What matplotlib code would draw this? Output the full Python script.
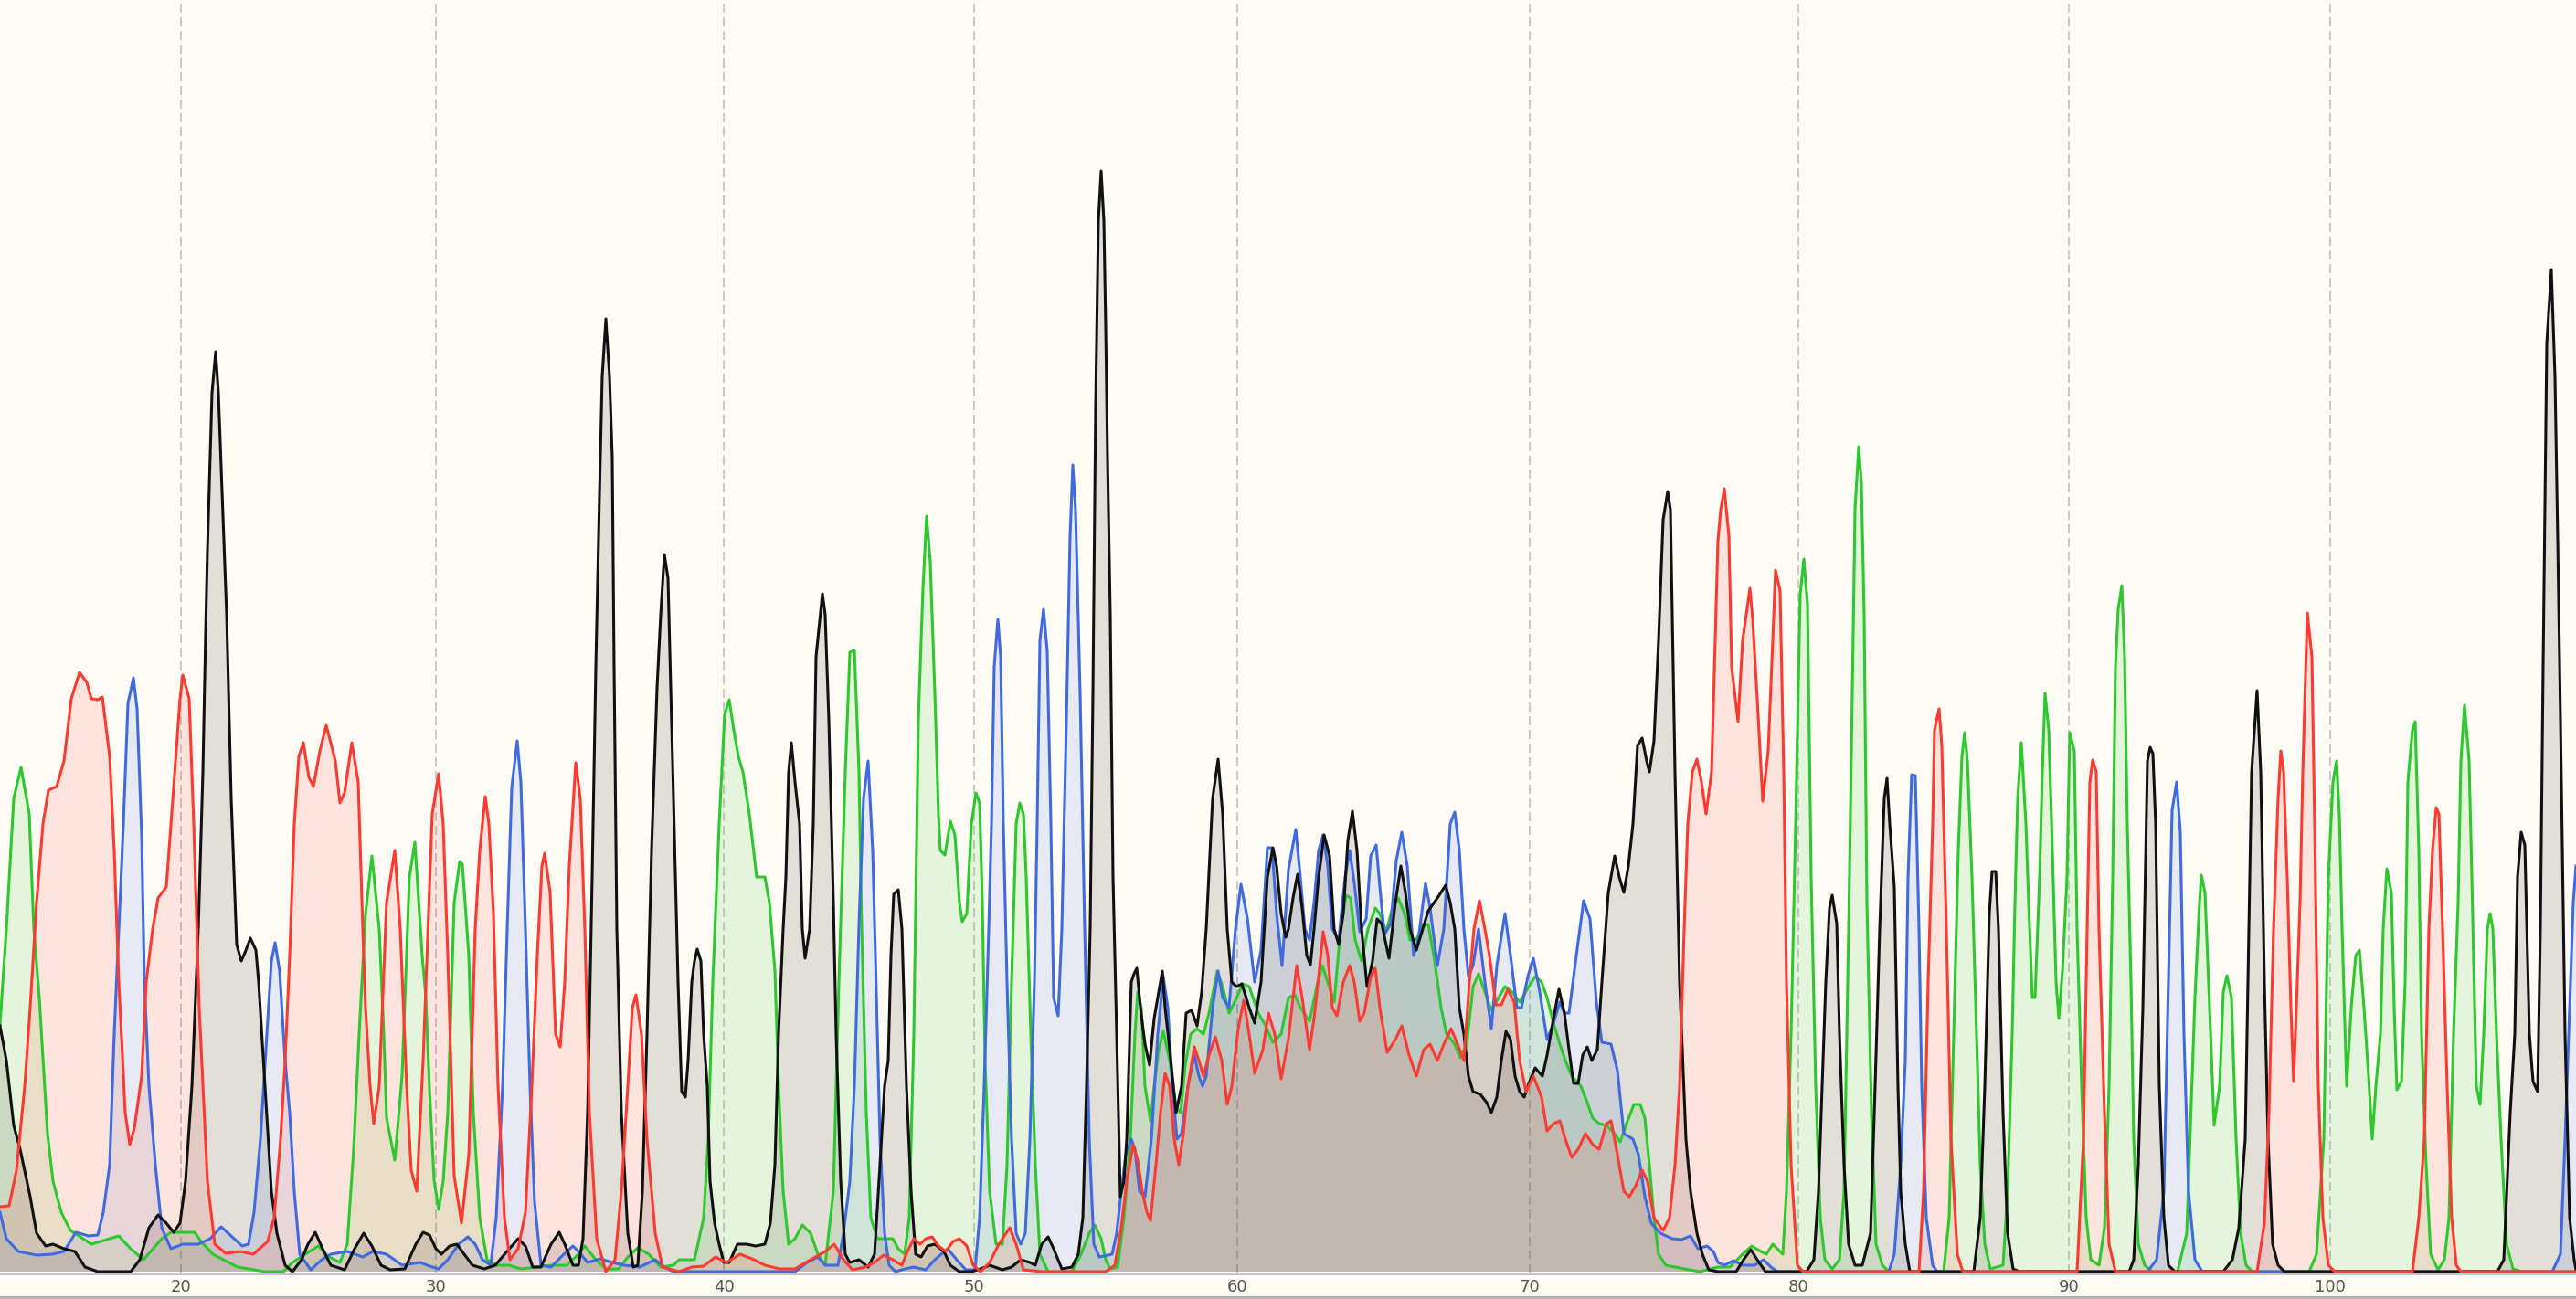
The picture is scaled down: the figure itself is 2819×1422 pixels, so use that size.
import matplotlib
matplotlib.use("Agg")
import matplotlib.pyplot as plt
from matplotlib.lines import Line2D

# ---------------- data (scan position, signal height) ----------------
green_x = [0, 7, 15, 23, 32, 37, 43, 52, 58, 67, 77, 100, 130, 143, 157, 177, 187, 213, 220, 233, 260, 290, 310, 320, 348, 360, 372, 380, 387, 393, 400, 407, 415, 420, 423, 432, 440, 448, 454, 462, 466, 470, 475, 480,
           485, 490, 497, 503, 506, 513, 518, 525, 533, 543, 557, 570, 587, 603, 620, 630, 640, 652, 663, 677, 687, 698, 710, 723, 737, 743, 760, 770, 775, 780, 787, 793, 798, 803, 808, 813, 820, 828, 837, 842, 848, 852, 857, 863, 870, 878, 887, 895, 903, 912, 918, 925, 930, 935, 940, 943, 948, 953, 960, 977, 983, 990, 995,
           1000, 1005, 1010, 1014, 1018, 1023, 1027, 1029, 1034, 1040, 1045, 1050, 1053, 1058, 1063, 1068, 1072, 1075, 1078, 1083, 1090, 1097, 1102, 1107, 1112, 1116, 1120, 1123, 1128, 1133, 1138, 1147, 1173, 1183, 1192, 1198, 1205, 1210, 1215, 1223, 1230, 1237, 1242, 1245, 1249, 1253, 1259, 1263, 1268, 1273, 1280, 1287, 1292, 1297,
           1303, 1310, 1317, 1323, 1332, 1338, 1345, 1352, 1360, 1367, 1377, 1385, 1393, 1402, 1410, 1417, 1423, 1433, 1442, 1447, 1453, 1460, 1467, 1473, 1478, 1483, 1490, 1497, 1505, 1510, 1517, 1523, 1530, 1537, 1543, 1550, 1557, 1563, 1570, 1577, 1583, 1592, 1598, 1605, 1612, 1618, 1625, 1632, 1640, 1647, 1655, 1663, 1673, 1680,
           1687, 1693, 1700, 1707, 1713, 1720, 1730, 1737, 1743, 1750, 1758, 1767, 1773, 1780, 1788, 1795, 1800, 1805, 1810, 1815, 1823, 1843, 1860, 1880, 1893, 1907, 1917, 1927, 1933, 1940, 1945, 1951, 1955, 1960, 1965, 1970, 1974, 1978, 1982, 1987, 1992, 1997, 2005, 2013, 2018, 2023, 2027, 2030, 2034, 2037, 2040, 2043, 2048,
           2053, 2060, 2067, 2127, 2133, 2138, 2143, 2147, 2150, 2153, 2158, 2163, 2167, 2172, 2178, 2192, 2197, 2202, 2205, 2208, 2212, 2217, 2220, 2224, 2227, 2232, 2235, 2238, 2242, 2246, 2250, 2253, 2257, 2262, 2265, 2270, 2273, 2278, 2283, 2288, 2297, 2303, 2308, 2312, 2315, 2318, 2322, 2325, 2328, 2332, 2335, 2340,
           2347, 2355, 2383, 2393, 2402, 2407, 2409, 2413, 2418, 2423, 2429, 2433, 2437, 2442, 2447, 2452, 2458, 2465, 2527, 2535, 2543, 2548, 2553, 2557, 2560, 2563, 2568, 2573, 2578, 2582, 2587, 2592, 2596, 2600, 2605, 2608, 2612, 2617, 2620, 2623, 2628, 2632, 2635, 2640, 2643, 2647, 2650, 2655, 2660, 2668, 2675, 2680,
           2685, 2690, 2693, 2697, 2702, 2705, 2710, 2714, 2718, 2722, 2725, 2728, 2732, 2737, 2743, 2750, 2760, 2819]
green_y = [271, 375, 518, 552, 501, 375, 300, 151, 99, 65, 45, 30, 39, 25, 13, 36, 43, 43, 33, 19, 5, 0, 0, 10, 28, 16, 10, 30, 134, 260, 392, 455, 375, 260, 168, 122, 214, 432, 470, 346, 300, 200, 100, 68,
           99, 174, 404, 449, 446, 346, 174, 59, 13, 7, 7, 3, 5, 7, 7, 16, 28, 13, 3, 3, 16, 26, 19, 5, 7, 13, 13, 59, 145, 317, 490, 610, 626, 593, 564, 547, 501, 432, 432, 404, 329, 203, 88, 30, 36, 51, 42, 19, 7, 88, 317, 547, 678, 680, 547, 375, 174, 59, 36, 36, 25, 19, 59,
           260, 604, 748, 827, 777, 633, 501, 461, 456, 493, 478, 404, 383, 392, 490, 524, 513, 404, 231, 88, 30, 30, 117, 317, 490, 513, 501, 432, 260, 117, 19, 0, 0, 19, 42, 51, 36, 13, 3, 5, 59, 145, 260, 306, 289, 203, 165, 203, 243, 263, 231, 180, 174, 226,
           260, 266, 260, 283, 329, 312, 283, 297, 315, 312, 283, 269, 251, 260, 300, 303, 289, 274, 317, 335, 317, 295, 375, 412, 409, 363, 340, 375, 398, 392, 372, 395, 409, 392, 363, 363, 380, 380, 340, 289, 260, 249, 234, 249, 312, 326, 306, 286, 300, 312, 306, 295, 312, 323,
           317, 300, 272, 249, 231, 214, 203, 185, 168, 162, 160, 151, 142, 162, 183, 183, 168, 117, 59, 19, 7, 3, 0, 5, 5, 19, 28, 22, 19, 30, 25, 19, 88, 260, 490, 742, 780, 731, 432, 203, 59, 13, 3, 13, 88, 375, 633, 834, 903, 863, 719, 404, 174,
           30, 7, 0, 0, 59, 260, 461, 564, 590, 559, 432, 260, 117, 30, 3, 7, 88, 260, 404, 518, 579, 490, 404, 300, 300, 432, 547, 633, 593, 461, 317, 277, 329, 432, 590, 570, 375, 203, 59, 13, 7, 48, 203, 432, 662, 725, 751, 673, 490, 317, 145, 30,
           7, 0, 0, 42, 300, 404, 434, 415, 289, 160, 203, 306, 324, 300, 145, 42, 7, 0, 0, 19, 145, 432, 536, 559, 501, 375, 203, 289, 346, 352, 289, 214, 145, 203, 260, 375, 441, 415, 289, 199, 208, 317, 536, 593, 602, 461, 260, 117, 19, 2, 13, 59,
           260, 404, 559, 620, 559, 432, 203, 183, 260, 375, 392, 375, 260, 145, 30, 3, 0, 0]

red_x = [0, 10, 18, 27, 33, 40, 47, 53, 62, 70, 78, 87, 95, 100, 107, 112, 120, 125, 130, 137, 142, 147, 155, 160, 167, 173, 182, 190, 197, 200, 207, 212, 218, 227, 235, 247, 263, 277, 293, 300, 307, 312, 317, 322, 327, 332, 338, 343, 350, 357, 367, 372, 377, 385, 392, 397, 400, 405, 409, 415, 423, 432, 438, 445, 450, 456, 463,
         470, 473, 480, 485, 490, 497, 505, 513, 520, 525, 531, 535, 540, 545, 552, 558, 567, 575, 582, 588, 593, 596, 602, 608, 613, 618, 623, 630, 635, 640, 645, 653, 663, 673, 680, 687, 692, 696, 702, 708, 717, 725, 743, 757, 770, 783, 795, 810, 823, 837, 853, 870, 887, 903, 913, 923, 933,
         947, 957, 967, 977, 987, 993, 1000, 1007, 1013, 1020, 1027, 1035, 1043, 1050, 1058, 1065, 1073, 1083, 1093, 1105, 1112, 1120, 1140, 1210, 1220, 1227, 1233, 1240, 1245, 1250, 1255, 1259, 1265, 1270, 1275, 1280, 1285, 1290, 1295, 1300, 1307, 1312, 1317, 1323, 1330, 1337, 1343, 1348, 1355, 1361, 1367, 1373, 1382, 1388, 1395, 1402,
         1410, 1415, 1419, 1425, 1433, 1438, 1443, 1448, 1453, 1458, 1463, 1470, 1477, 1482, 1488, 1493, 1500, 1505, 1510, 1518, 1527, 1534, 1542, 1550, 1558, 1565, 1573, 1580, 1588, 1595, 1602, 1608, 1613, 1619, 1625, 1630, 1637, 1643, 1650, 1657, 1663, 1670, 1678, 1687, 1693, 1700, 1707, 1713, 1720, 1727, 1735, 1743,
         1750, 1758, 1763, 1770, 1777, 1783, 1790, 1797, 1803, 1810, 1820, 1827, 1833, 1838, 1843, 1847, 1852, 1857, 1862, 1867, 1873, 1877, 1880, 1883, 1887, 1892, 1895, 1902, 1907, 1915, 1918, 1923, 1929, 1935, 1940, 1943, 1948, 1952, 1955, 1960, 1967, 1973, 2100, 2105, 2110, 2115, 2117, 2122, 2125, 2130, 2135, 2142,
         2148, 2273, 2280, 2284, 2287, 2290, 2294, 2297, 2303, 2308, 2315, 2470, 2478, 2483, 2488, 2493, 2496, 2499, 2503, 2507, 2510, 2513, 2517, 2520, 2525, 2530, 2533, 2537, 2542, 2548, 2555, 2640, 2647, 2653, 2658, 2662, 2666, 2669, 2673, 2678, 2683, 2688, 2693, 2819]
red_y = [71, 72, 111, 203, 289, 404, 490, 527, 531, 559, 627, 656, 645, 627, 626, 629, 564, 461, 317, 174, 139, 157, 214, 317, 375, 409, 421, 530, 627, 653, 627, 490, 289, 99, 30, 20, 22, 19, 33, 59, 145, 231, 346, 490, 564, 579, 541, 531, 570, 598, 559, 513, 524, 579, 536, 375, 289, 203, 162, 203, 404, 461, 375, 203, 111, 88, 231,
         421, 501, 545, 490, 346, 105, 53, 128, 375, 461, 520, 490, 392, 203, 59, 13, 25, 65, 203, 346, 444, 458, 415, 260, 246, 317, 444, 557, 518, 375, 174, 36, 0, 13, 88, 203, 289, 303, 260, 145, 42, 5, 0, 5, 6, 16, 10, 19, 14, 7, 3, 3, 13, 22, 30, 13, 2,
         5, 10, 18, 13, 7, 22, 36, 30, 36, 38, 28, 22, 33, 36, 28, 7, 0, 10, 30, 48, 30, 2, 0, 0, 7, 48, 99, 139, 122, 88, 65, 56, 117, 174, 217, 203, 145, 117, 151, 203, 246, 231, 214, 237, 257, 231, 183, 203, 266, 297, 260, 217, 243, 283, 260, 211,
         255, 300, 335, 300, 243, 277, 323, 372, 346, 289, 280, 317, 335, 317, 274, 283, 323, 332, 289, 240, 254, 269, 237, 214, 243, 249, 231, 249, 266, 249, 231, 317, 375, 406, 375, 346, 292, 292, 309, 295, 231, 197, 214, 191, 154, 162, 165, 145, 125, 134, 151, 139,
         134, 162, 165, 128, 88, 82, 94, 111, 99, 59, 45, 59, 117, 203, 375, 490, 547, 561, 536, 501, 547, 691, 800, 834, 857, 805, 662, 602, 691, 748, 714, 627, 515, 570, 691, 768, 745, 547, 317, 117, 7, 0, 0, 88, 317, 490, 593, 616, 576, 375, 145, 19,
         0, 0, 145, 375, 536, 560, 547, 375, 174, 30, 0, 0, 53, 174, 375, 518, 570, 547, 432, 289, 208, 289, 404, 547, 721, 673, 490, 203, 59, 7, 0, 0, 59, 145, 375, 461, 508, 501, 375, 203, 59, 7, 0, 0]

blue_x = [0, 7, 20, 40, 57, 70, 83, 97, 107, 113, 120, 125, 130, 135, 140, 146, 150, 155, 158, 163, 170, 177, 187, 200, 217, 230, 242, 253, 265, 272, 278, 285, 292, 297, 301, 306, 312, 317, 322, 328, 340, 352, 362, 380, 397, 408, 423, 440, 460, 470, 480, 490, 502, 512, 520, 528, 537, 543, 550, 555, 560, 566, 570, 575, 580, 585,
          592, 603, 617, 627, 633, 643, 657, 670, 683, 700, 717, 727, 737, 870, 883, 895, 903, 917, 923, 930, 935, 940, 945, 950, 955, 958, 963, 968, 973, 980, 990, 1000, 1013, 1023, 1037, 1047, 1057, 1067, 1072, 1077, 1082, 1085, 1088, 1092, 1095, 1098, 1102, 1107, 1112, 1117, 1122, 1127, 1132, 1135, 1138, 1142, 1146,
          1150, 1153, 1158, 1162, 1167, 1171, 1174, 1177, 1182, 1187, 1192, 1197, 1203, 1217, 1222, 1227, 1232, 1238, 1242, 1247, 1253, 1260, 1267, 1273, 1278, 1283, 1288, 1293, 1300, 1307, 1312, 1316, 1320, 1327, 1333, 1338, 1345, 1352, 1358, 1365, 1373, 1380, 1387, 1392, 1397, 1403,
          1410, 1418, 1423, 1428, 1433, 1438, 1443, 1448, 1453, 1458, 1465, 1472, 1477, 1482, 1488, 1495, 1500, 1506, 1510, 1515, 1522, 1528, 1534, 1540, 1547, 1552, 1560, 1565, 1573, 1580, 1587, 1592, 1597, 1602, 1607, 1612, 1618, 1625, 1632, 1638, 1647, 1653, 1660, 1665, 1672, 1678, 1685, 1693, 1700, 1707, 1712, 1717,
          1725, 1733, 1740, 1747, 1753, 1763, 1770, 1777, 1787, 1793, 1800, 1807, 1817, 1830, 1840, 1850, 1858, 1868, 1875, 1880, 1887, 1897, 1907, 1920, 1930, 1938, 1945, 2067, 2073, 2080, 2085, 2088, 2092, 2096, 2100, 2103, 2108, 2115, 2120, 2350, 2360, 2368, 2373, 2377, 2382, 2386, 2390, 2395, 2402, 2410,
          2793, 2802, 2807, 2812, 2816, 2819]
blue_y = [65, 36, 22, 18, 19, 22, 43, 39, 40, 65, 117, 260, 375, 490, 622, 650, 616, 478, 317, 203, 117, 48, 25, 30, 30, 36, 49, 39, 28, 30, 65, 145, 260, 340, 360, 329, 231, 174, 88, 19, 2, 13, 19, 22, 16, 22, 19, 7, 10, 6, 3, 13, 30, 38, 30, 13, 7, 59, 203, 375, 530, 581, 536, 375, 203, 76,
          7, 5, 19, 28, 22, 10, 14, 10, 7, 5, 13, 5, 0, 0, 10, 16, 7, 7, 42, 99, 203, 380, 518, 559, 461, 346, 145, 42, 7, 0, 3, 5, 2, 13, 25, 13, 2, 2, 59, 203, 375, 490, 662, 714, 673, 490, 317, 145, 42, 30, 42, 145, 317, 490, 691, 725, 679,
          490, 300, 280, 375, 604, 805, 883, 834, 633, 375, 145, 30, 16, 19, 42, 88, 128, 145, 134, 88, 82, 145, 260, 323, 289, 203, 145, 151, 203, 237, 214, 203, 214, 289, 329, 300, 289, 375, 424, 387, 317, 352, 464, 464, 392, 335,
          440, 484, 432, 375, 363, 404, 461, 478, 444, 375, 363, 432, 461, 426, 372, 386, 455, 467, 421, 369, 381, 450, 481, 444, 346, 363, 425, 398, 335, 375, 490, 503, 461, 375, 323, 335, 375, 317, 266, 335, 392, 346, 289, 289, 323, 343, 306, 254, 272, 295, 283, 283,
          346, 406, 386, 295, 251, 249, 220, 151, 145, 128, 82, 53, 42, 36, 35, 39, 25, 28, 22, 10, 7, 12, 7, 7, 13, 5, 0, 0, 19, 117, 231, 432, 544, 543, 375, 203, 59, 7, 0, 0, 13, 88, 317, 505, 536, 481, 260, 88, 13, 0,
          0, 19, 145, 289, 404, 444]

black_x = [0, 7, 15, 22, 33, 40, 50, 58, 70, 82, 93, 107, 143, 153, 163, 173, 182, 190, 197, 203, 210, 217, 222, 225, 227, 232, 236, 239, 248, 253, 259, 264, 268, 274, 280, 283, 290, 297, 303, 312, 320, 330, 337, 345, 353, 362, 377, 388, 398, 407, 417, 427, 443, 455, 463,
           470, 477, 483, 492, 500, 508, 517, 530, 542, 553, 567, 575, 583, 592, 603, 612, 618, 627, 633, 638, 643, 648, 652, 656, 659, 663, 667, 670, 672, 675, 680, 687, 693, 698, 703, 708, 713, 719, 723, 727, 731, 737, 742, 746, 750, 753, 757, 760, 763, 767, 770, 774, 777, 782, 787, 792, 798,
           807, 817, 827, 837, 843, 848, 852, 857, 860, 863, 866, 870, 875, 878, 881, 886, 890, 893, 900, 903, 907, 912, 915, 920, 925, 930, 940, 950, 957, 963, 968, 972, 975, 978, 983, 987, 992, 997, 1002, 1008, 1015, 1023, 1033, 1040, 1050, 1063, 1073, 1083, 1097, 1107, 1117, 1127, 1133, 1140, 1147, 1153, 1162, 1173,
           1180, 1185, 1189, 1193, 1196, 1199, 1202, 1205, 1208, 1210, 1212, 1215, 1218, 1222, 1226, 1230, 1233, 1238, 1241, 1244, 1248, 1253, 1258, 1263, 1268, 1272, 1275, 1280, 1287, 1293, 1298, 1304, 1310, 1315, 1320, 1327, 1333, 1338, 1343, 1348, 1353, 1359, 1367, 1373, 1380, 1387, 1393, 1397, 1402, 1407,
           1410, 1415, 1420, 1425, 1430, 1434, 1438, 1443, 1449, 1455, 1460, 1465, 1470, 1475, 1480, 1485, 1490, 1496, 1502, 1507, 1512, 1520, 1527, 1533, 1538, 1543, 1550, 1557, 1563, 1573, 1582, 1587, 1592, 1597, 1602, 1607, 1612, 1620, 1627, 1632, 1638, 1643, 1648, 1653, 1658, 1663, 1668, 1673, 1680, 1688,
           1693, 1700, 1706, 1712, 1717, 1722, 1727, 1732, 1737, 1742, 1748, 1753, 1760, 1767, 1772, 1777, 1782, 1787, 1792, 1797, 1802, 1805, 1810, 1815, 1820, 1825, 1828, 1833, 1838, 1845, 1850, 1857, 1863, 1870, 1880, 1900, 1908, 1916, 1923, 1932, 1977, 1985, 1990, 1995, 1998, 2002, 2005, 2010, 2013, 2018,
           2023, 2030, 2038, 2047, 2052, 2057, 2062, 2065, 2068, 2073, 2077, 2080, 2085, 2090, 2160, 2167, 2172, 2177, 2180, 2184, 2187, 2192, 2197, 2203, 2210, 2330, 2335, 2340, 2345, 2350, 2353, 2356, 2359, 2363, 2368, 2373, 2380, 2433, 2443, 2450, 2457, 2460, 2464, 2470, 2474, 2478, 2482, 2487, 2493, 2500,
           2733, 2740, 2747, 2752, 2755, 2759, 2763, 2768, 2772, 2777, 2780, 2783, 2787, 2792, 2796, 2799, 2802, 2807, 2812, 2817, 2819]
black_y = [269, 231, 160, 134, 82, 42, 28, 30, 25, 22, 5, 0, 0, 13, 48, 62, 53, 43, 53, 99, 203, 375, 547, 700, 790, 962, 1007, 962, 719, 518, 358, 340, 349, 365, 352, 317, 203, 88, 42, 7, 0, 13, 30, 43, 25, 7, 2, 25, 42, 28, 7, 2, 3, 30, 43,
           40, 25, 19, 28, 30, 19, 7, 3, 7, 20, 36, 28, 5, 5, 30, 43, 30, 7, 7, 36, 174, 432, 662, 850, 980, 1043, 980, 891, 662, 375, 174, 42, 5, 7, 88, 260, 461, 639, 719, 785, 759, 518, 317, 197, 191, 231, 317, 340, 353, 340, 260, 203, 99, 53, 30, 10, 10,
           30, 30, 28, 30, 53, 117, 260, 375, 432, 547, 579, 536, 490, 375, 343, 375, 490, 673, 742, 719, 604, 404, 260, 99, 19, 10, 13, 5, 19, 117, 203, 231, 346, 413, 418, 375, 203, 88, 19, 16, 28, 30, 22, 7, 0, 0, 3, 7, 2, 5, 13, 10, 7, 30, 38, 25, 3, 5,
           19, 59, 203, 375, 633, 950, 1150, 1205, 1150, 1034, 891, 719, 432, 260, 82, 99, 145, 317, 326, 332, 289, 249, 226, 277, 306, 329, 289, 243, 174, 203, 283, 286, 269, 306, 375, 518, 561, 501, 375, 317, 312, 315, 289, 272, 317, 432, 464, 444, 392, 366,
           375, 409, 435, 398, 346, 336, 375, 432, 478, 455, 375, 358, 392, 472, 504, 461, 375, 312, 340, 386, 381, 343, 404, 444, 415, 375, 352, 375, 395, 409, 423, 404, 375, 289, 260, 214, 197, 194, 185, 174, 191, 231, 263, 254, 214, 197, 191, 206, 223, 214,
           237, 277, 309, 283, 243, 206, 206, 237, 246, 231, 243, 317, 415, 455, 432, 415, 444, 490, 576, 584, 559, 547, 581, 691, 823, 854, 834, 547, 317, 145, 88, 42, 19, 2, 0, 0, 13, 24, 13, 0, 0, 13, 88, 231, 317, 398, 412, 381, 260, 117,
           30, 7, 7, 42, 203, 375, 518, 540, 490, 421, 203, 88, 30, 0, 0, 59, 203, 392, 438, 438, 375, 174, 42, 3, 0, 0, 13, 117, 289, 559, 574, 567, 490, 203, 59, 7, 0, 0, 13, 48, 145, 317, 547, 636, 547, 317, 145, 30, 7, 0,
           0, 13, 174, 260, 432, 481, 467, 260, 208, 197, 375, 662, 1016, 1097, 980, 800, 604, 260, 59, 13, 2]

tick_positions = [198, 477, 792, 1066, 1354, 1674, 1968, 2264, 2550]
tick_labels = ["20", "30", "40", "50", "60", "70", "80", "90", "100"]

# ---------------- styling ----------------
W, H = 2819, 1422
BG = "#fffcf5"
channels = [
    (green_x, green_y, "#2ec82e"),
    (blue_x, blue_y, "#3f6ae0"),
    (black_x, black_y, "#111111"),
    (red_x, red_y, "#ff3a30"),
]

plt.rcParams["lines.scale_dashes"] = False
fig = plt.figure(figsize=(W / 100, H / 100), dpi=100)
fig.patch.set_facecolor(BG)

axes_bottom_px = 1394  # from top
ax = fig.add_axes([0, (H - axes_bottom_px) / H, 1, axes_bottom_px / H])
ax.set_facecolor(BG)
ax.set_xlim(0, W)
ax.set_ylim(-2, axes_bottom_px - 2)

for xp in tick_positions:
    ax.axvline(xp, color="#c9c9c9", lw=1.4, dashes=(7.2, 3.6), zorder=0)

for xs, ys, c in channels:
    ax.fill_between(xs, ys, 0, color=c, alpha=0.12, lw=0, zorder=1)
for xs, ys, c in channels:
    ax.plot(xs, ys, color=c, lw=2.2, solid_joinstyle="round", zorder=2)

for side in ("top", "left", "right"):
    ax.spines[side].set_visible(False)
ax.spines["bottom"].set_color("#c4c4c4")
ax.spines["bottom"].set_linewidth(2.2)
ax.spines["bottom"].set_zorder(3)

ax.set_yticks([])
ax.set_xticks(tick_positions)
ax.set_xticklabels(tick_labels, fontsize=13, color="#555555", family="DejaVu Sans")
ax.tick_params(axis="x", length=0, pad=4.5)

fig.add_artist(Line2D([0, 1], [1.6 / H, 1.6 / H], transform=fig.transFigure,
                      color="#b5b5b5", lw=2.4))

fig.savefig("out.png", dpi=100, facecolor=BG)
